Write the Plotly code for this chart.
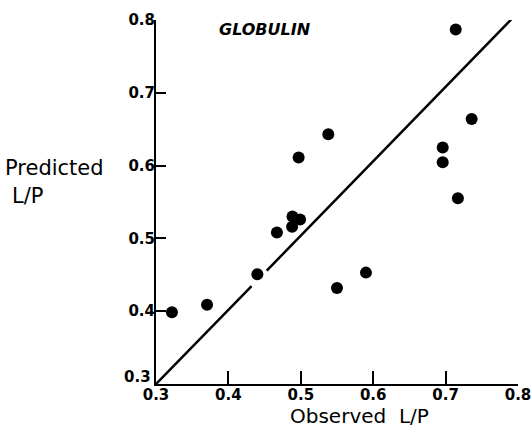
import plotly.graph_objects as go

# Observed vs predicted L/P (globulin)
observed = [0.714, 0.736, 0.538, 0.497, 0.696, 0.696, 0.717, 0.4885, 0.499, 0.488,
            0.467, 0.440, 0.590, 0.550, 0.3705, 0.322]
predicted = [0.787, 0.664, 0.643, 0.611, 0.625, 0.6045, 0.555, 0.530, 0.526, 0.516,
             0.508, 0.4507, 0.453, 0.432, 0.409, 0.3985]

# identity-like reference line (drawn in two pieces, with a gap)
line_x = [0.3, 0.432, None, 0.453, 0.8]
line_y = [0.3, 0.4344, None, 0.4558, 0.8104]

x_ticks = [0.3, 0.4, 0.5, 0.6, 0.7, 0.8]
x_tick_text = ["0.3", "0.4", "0.5", "0.6", "0.7", "0.8"]
y_ticks = [0.4, 0.5, 0.6, 0.7, 0.8]
y_tick_text = ["0.4", "0.5", "0.6", "0.7", "0.8"]
y_origin_label = "0.3"

FONT = "DejaVu Sans, Verdana, sans-serif"

# pixel geometry of the plot area
PL, PR, PT, PB = 156, 517.7, 20, 384
W, H = 532, 438

def px(x):
    return (x - PL) / (PR - PL)

def py(y):
    return (PB - y) / (PB - PT)

fig = go.Figure()
fig.add_trace(go.Scatter(x=line_x, y=line_y, mode="lines",
                         line=dict(color="black", width=2.5), hoverinfo="skip"))
fig.add_trace(go.Scatter(x=observed, y=predicted, mode="markers",
                         marker=dict(color="black", size=12), cliponaxis=False))

tickfont = dict(size=15, family=FONT, color="black", weight="bold")

fig.update_layout(
    width=W, height=H,
    margin=dict(l=PL, r=W - PR, t=PT, b=H - PB),
    paper_bgcolor="white", plot_bgcolor="white",
    showlegend=False,
    font=dict(family=FONT, color="black"),
    xaxis=dict(range=[0.3, 0.8], tickvals=x_ticks, ticktext=x_tick_text, automargin=False,
               showgrid=False, zeroline=False, showline=True, linecolor="black",
               linewidth=2, ticks="inside", ticklen=13, tickwidth=2, tickcolor="black",
               ticklabelstandoff=-4, tickfont=tickfont),
    yaxis=dict(range=[0.3, 0.8], tickvals=y_ticks, ticktext=y_tick_text, automargin=False,
               showgrid=False, zeroline=False, showline=True, linecolor="black",
               linewidth=2, ticks="inside", ticklen=10, tickwidth=2, tickcolor="black",
               ticklabelstandoff=-4, tickfont=tickfont),
    annotations=[
        dict(text=y_origin_label, xref="paper", yref="paper",
             x=px(153), y=py(377), xanchor="right", yanchor="middle",
             showarrow=False, font=tickfont),
        dict(text="<b><i>GLOBULIN</i></b>", xref="paper", yref="paper",
             x=px(265), y=py(29), xanchor="center", yanchor="middle",
             showarrow=False, font=dict(size=16, family=FONT)),
        dict(text="Observed  L/P", xref="paper", yref="paper",
             x=px(359), y=py(416), xanchor="center", yanchor="middle",
             showarrow=False, font=dict(size=20, family=FONT)),
        dict(text="Predicted", xref="paper", yref="paper",
             x=px(3), y=py(168), xanchor="left", yanchor="middle",
             showarrow=False, font=dict(size=21, family=FONT)),
        dict(text="L/P", xref="paper", yref="paper",
             x=px(10), y=py(196), xanchor="left", yanchor="middle",
             showarrow=False, font=dict(size=21, family=FONT)),
    ],
)

fig.write_html("out.html", config={"displayModeBar": False},
               post_script="document.body.style.margin='0';")
